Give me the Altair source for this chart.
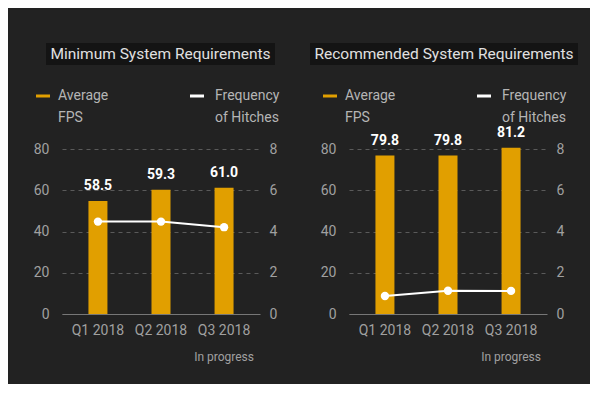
import altair as alt
import pandas as pd

quarters = ["Q1 2018", "Q2 2018", "Q3 2018"]
min_fps = [54.8, 60.2, 61.2]
min_fps_labels = ["58.5", "59.3", "61.0"]
min_hitches = [4.48, 4.48, 4.21]
rec_fps = [76.8, 76.8, 80.6]
rec_fps_labels = ["79.8", "79.8", "81.2"]
rec_hitches = [0.87, 1.13, 1.12]
titles = ["Minimum System Requirements", "Recommended System Requirements"]
legend_labels = ["Average\nFPS", "Frequency\nof Hitches"]
note = "In progress"

BG = "#222222"
ORANGE = "#e19f00"
FONT = "Roboto"


def panel(title, fps, labels, hitches, box_left, box_right):
    df = pd.DataFrame({"quarter": quarters, "fps": fps, "label": labels, "hitches": hitches})
    xenc = alt.X(
        "quarter:N",
        sort=quarters,
        title=None,
        scale=alt.Scale(paddingInner=0, paddingOuter=0.07),
        axis=alt.Axis(labelAngle=0, ticks=False, domain=True, domainColor="#777777",
                      labelPadding=9, labelFontSize=14, labelColor="#a0a0a0", labelFont=FONT),
    )
    base = alt.Chart(df).encode(x=xenc)
    yfps = alt.Y(
        "fps:Q",
        title=None,
        scale=alt.Scale(domain=[0, 80]),
        axis=alt.Axis(values=[0, 20, 40, 60, 80], grid=True, gridColor="#5a5a5a", gridDash=[4, 4],
                      domain=False, ticks=False, labelPadding=13, labelFontSize=14,
                      labelColor="#a0a0a0", labelFont=FONT),
    )
    bars = base.mark_bar(color=ORANGE, size=19).encode(y=yfps)
    vals = base.mark_text(color="white", fontWeight="bold", fontSize=14, font=FONT,
                          baseline="middle", dy=-15).encode(y=yfps, text="label:N")
    fps_layer = alt.layer(bars, vals)
    hitch_layer = base.mark_line(
        color="white", strokeWidth=2,
        point=alt.OverlayMarkDef(filled=True, color="white", size=70, opacity=1),
    ).encode(
        y=alt.Y("hitches:Q", title=None, scale=alt.Scale(domain=[0, 8]),
                axis=alt.Axis(orient="right", values=[0, 2, 4, 6, 8], grid=False, domain=False,
                              ticks=False, labelPadding=9, labelFontSize=14,
                              labelColor="#a0a0a0", labelFont=FONT))
    )
    one = alt.Chart(pd.DataFrame({"quarter": [quarters[2]], "title": [title]}))
    note_text = one.mark_text(text=note, fontSize=12, color="#a0a0a0", font=FONT,
                              baseline="middle").encode(x=alt.X("quarter:N", sort=quarters),
                                                        y=alt.value(208))
    title_box = one.mark_rect(color="#141414").encode(
        x=alt.value(box_left), x2=alt.value(box_right), y=alt.value(-106), y2=alt.value(-84))
    title_text = one.mark_text(fontSize=15.5, color="#e0e0e0", font=FONT, baseline="middle",
                               align="center").encode(
        x=alt.value((box_left + box_right) / 2), y=alt.value(-95), text="title:N")
    leg_rule1 = one.mark_rule(color=ORANGE, strokeWidth=3).encode(
        x=alt.value(-26), x2=alt.value(-12), y=alt.value(-53))
    leg_rule2 = one.mark_rule(color="white", strokeWidth=3).encode(
        x=alt.value(128), x2=alt.value(142), y=alt.value(-53))
    leg_text1 = one.mark_text(text=legend_labels[0], lineBreak="\n", lineHeight=22, fontSize=14,
                              color="#b5b5b5", font=FONT, align="left", baseline="middle").encode(
        x=alt.value(-4), y=alt.value(-53))
    leg_text2 = one.mark_text(text=legend_labels[1], lineBreak="\n", lineHeight=22, fontSize=14,
                              color="#b5b5b5", font=FONT, align="left", baseline="middle").encode(
        x=alt.value(153), y=alt.value(-53))
    return alt.layer(
        alt.layer(fps_layer, hitch_layer).resolve_scale(y="independent"),
        note_text, title_box, title_text, leg_rule1, leg_rule2, leg_text1, leg_text2,
    ).properties(width=198, height=165)


left = panel(titles[0], min_fps, min_fps_labels, min_hitches, -16, 213)
right = panel(titles[1], rec_fps, rec_fps_labels, rec_hitches, -39, 229)

chart = alt.hconcat(left, right, spacing=30).properties(
    background=BG,
    padding={"left": 25, "top": 35, "right": 12, "bottom": 21},
).configure_view(stroke=None)

chart.save("out.html", embed_options={"renderer": "svg", "actions": False})
